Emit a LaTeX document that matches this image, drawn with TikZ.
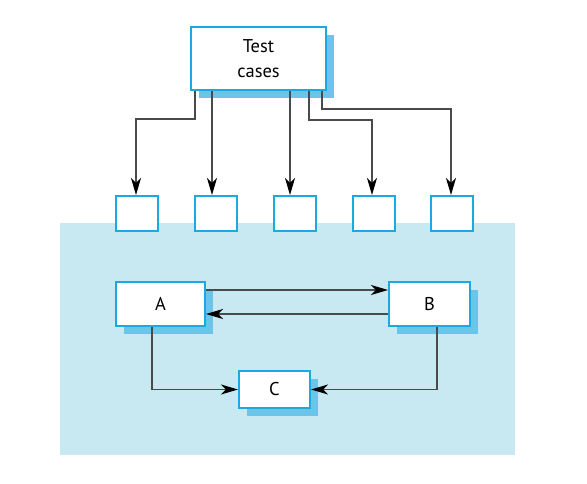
\documentclass[tikz,border=0pt]{standalone}
\usepackage{fontspec}
\setmainfont{PT Sans}
\usetikzlibrary{arrows.meta,shadows}
\definecolor{boxblue}{HTML}{1AAAE0}
\definecolor{shadowblue}{HTML}{6CC5E8}
\definecolor{areablue}{HTML}{C8E8F2}
\definecolor{wirecol}{HTML}{4A4A4A}
\begin{document}
\begin{tikzpicture}[x=1pt,y=-1pt,
  unit/.style={draw=boxblue, line width=2pt, fill=white, inner sep=0pt,
    font=\fontsize{18.5}{25}\selectfont},
  shadowed/.style={drop shadow={shadow xshift=8pt,shadow yshift=-8pt,
    fill=shadowblue,opacity=1}},
  wire/.style={draw=wirecol, line width=1.2pt,
    -{Stealth[length=17pt,width=10pt,inset=5pt,color=black]}}]
\useasboundingbox (0,0) rectangle (587,484);

% system area
\fill[areablue] (60,223) rectangle (515,455);

% test case source
\node[unit,shadowed,minimum width=135pt,minimum height=63pt,align=center]
  (tc) at (258.5,58.5) {Test\\cases};

% interface boxes
\foreach \i/\x in {1/137,2/215.5,3/294.5,4/374,5/452}
  \node[unit,minimum width=42pt,minimum height=35pt] (b\i) at (\x,213.5) {};

% components
\node[unit,shadowed,minimum width=89pt,minimum height=44pt] (A) at (160.5,304) {A};
\node[unit,shadowed,minimum width=81pt,minimum height=44pt] (B) at (429.5,304) {B};
\node[unit,shadowed,minimum width=71pt,minimum height=37pt] (C) at (274.5,389.5) {C};

% test case feeds
\draw[wire] (tc.south -| 195,0) -- (195,119) -- (136,119) -- (b1.north -| 136,0);
\draw[wire] (tc.south -| 212,0) -- (b2.north -| 212,0);
\draw[wire] (tc.south -| 290,0) -- (b3.north -| 290,0);
\draw[wire] (tc.south -| 309,0) -- (309,120) -- (372,120) -- (b4.north -| 372,0);
\draw[wire] (tc.south -| 322,0) -- (322,109) -- (451,109) -- (b5.north -| 451,0);

% component interactions
\draw[wire] (A.east |- 0,290) -- (B.west |- 0,290);
\draw[wire] (B.west |- 0,314) -- (A.east |- 0,314);
\draw[wire] (A.south -| 152,0) |- (C.west);
\draw[wire] (B.south -| 437,0) |- (C.east);
\end{tikzpicture}
\end{document}
